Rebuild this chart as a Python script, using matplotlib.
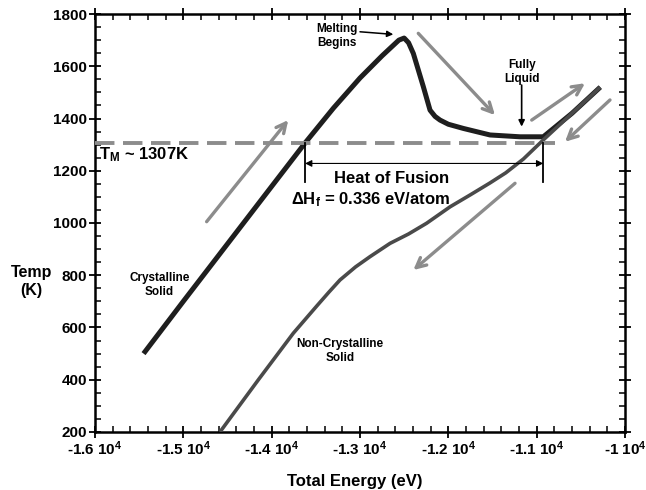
import matplotlib.pyplot as plt
from matplotlib.ticker import MultipleLocator, FuncFormatter

plt.rcParams['font.family'] = ['Liberation Sans', 'DejaVu Sans']
plt.rcParams['font.weight'] = 'bold'
plt.rcParams['mathtext.fontset'] = 'custom'
plt.rcParams['mathtext.rm'] = 'Liberation Sans:bold'
plt.rcParams['mathtext.it'] = 'Liberation Sans:bold'
plt.rcParams['mathtext.bf'] = 'Liberation Sans:bold'

# heating run: crystalline solid -> melting -> liquid
heat_E = [-15450, -15000, -14500, -14000, -13620, -13300, -13000, -12750,
          -12560, -12500, -12450, -12396, -12283, -12207, -12150, -12094,
          -12000, -11830, -11528, -11189, -10925, -10600, -10280]
heat_T = [500, 700, 920, 1140, 1307, 1440, 1555, 1640,
          1700, 1708, 1690, 1649, 1522, 1432, 1408, 1394,
          1378, 1362, 1337, 1330, 1330, 1420, 1520]

# cooling run: liquid -> non-crystalline solid
cool_E = [-10280, -10600, -10925, -11150, -11350, -11530, -11750, -11980,
          -12246, -12450, -12660, -12887, -13050, -13226, -13350, -13490,
          -13755, -14150, -14585]
cool_T = [1520, 1420, 1318, 1245, 1192, 1153, 1108, 1062,
          999, 958, 922, 871, 832, 782, 736, 682,
          578, 400, 200]

T_melt = 1307
E_solid = -13622
E_liquid = -10925

fig, ax = plt.subplots(figsize=(6.46, 4.9), dpi=100)
fig.subplots_adjust(left=0.147, right=0.9675, bottom=0.1184, top=0.9714)

ax.plot(heat_E, heat_T, color="#1e1e1e", lw=3.6, solid_capstyle="butt",
        solid_joinstyle="round", zorder=3)
ax.plot(cool_E, cool_T, color="#4a4a4a", lw=2.6, solid_capstyle="butt",
        solid_joinstyle="round", zorder=3)

# melting temperature line
ax.plot([-16000, -10790], [T_melt, T_melt], color="#8c8c8c", lw=2.8,
        dashes=(5, 2.2), zorder=4)
ax.text(-15950, 1262, r"T$_{\mathrm{M}}$ ~ 1307K", fontsize=12, fontweight="bold",
        va="center", ha="left")

# heat of fusion bracket
ax.plot([E_solid, E_solid], [1305, 1158], color="black", lw=1.3, zorder=5)
ax.plot([E_liquid, E_liquid], [1305, 1158], color="black", lw=1.3, zorder=5)
ax.annotate("", xy=(E_solid, 1228), xytext=(E_liquid, 1228),
            arrowprops=dict(arrowstyle="<|-|>", color="black", lw=0.8,
                            mutation_scale=10, shrinkA=0, shrinkB=0), zorder=5)
ax.text(-12640, 1172, "Heat of Fusion", fontsize=12, fontweight="bold",
        ha="center", va="center")
ax.text(-12875, 1088, r"$\Delta$H$_{\mathrm{f}}$ = 0.336 eV/atom", fontsize=12,
        fontweight="bold", ha="center", va="center")

# annotations
ax.text(-13257, 1716, "Melting\nBegins", fontsize=8.5, fontweight="bold",
        ha="center", va="center")
ax.annotate("", xy=(-12623, 1722), xytext=(-13000, 1732),
            arrowprops=dict(arrowstyle="-|>", color="black", lw=1.1,
                            mutation_scale=9, shrinkA=0, shrinkB=0))
ax.annotate("", xy=(-11170, 1369), xytext=(-11170, 1528),
            arrowprops=dict(arrowstyle="-|>", color="black", lw=1.2,
                            mutation_scale=9, shrinkA=0, shrinkB=0))
ax.text(-11170, 1579, "Fully\nLiquid", fontsize=8.5, fontweight="bold",
        ha="center", va="center")
ax.text(-15272, 763, "Crystalline\nSolid", fontsize=8.5, fontweight="bold",
        ha="center", va="center")
ax.text(-13226, 510, "Non-Crystalline\nSolid", fontsize=8.5, fontweight="bold",
        ha="center", va="center")

# gray direction arrows
arrows = [((-14736, 1005), (-13812, 1394)),
          ((-12340, 1726), (-11472, 1413)),
          ((-11056, 1394), (-10453, 1535)),
          ((-10170, 1471), (-10679, 1311)),
          ((-11245, 1152), (-12396, 820))]
for start, end in arrows:
    ax.annotate("", xy=end, xytext=start,
                arrowprops=dict(arrowstyle="->,head_length=0.7,head_width=0.35",
                                color="#8c8c8c", lw=2.4, shrinkA=0, shrinkB=0))

ax.set_xlim(-16000, -10000)
ax.set_ylim(200, 1800)
ax.xaxis.set_major_locator(MultipleLocator(1000))
ax.xaxis.set_minor_locator(MultipleLocator(200))
ax.yaxis.set_major_locator(MultipleLocator(200))
ax.yaxis.set_minor_locator(MultipleLocator(50))


def energy_fmt(v, pos):
    m = v / 1e4
    s = "%g" % m
    return s + r" 10$^{4}$"


ax.xaxis.set_major_formatter(FuncFormatter(energy_fmt))
ax.tick_params(which="major", direction="inout", length=9, width=1.3,
               labelsize=11, top=True, right=True, pad=1)
ax.tick_params(which="minor", direction="in", length=4, width=1.1,
               top=True, right=True)
for lab in ax.get_xticklabels() + ax.get_yticklabels():
    lab.set_fontweight("bold")
for sp in ax.spines.values():
    sp.set_linewidth(1.8)

ax.set_xlabel("Total Energy (eV)", fontsize=12, fontweight="bold", labelpad=10)
ax.xaxis.set_label_coords(0.49, -0.1)
ax.set_ylabel("Temp\n(K)", fontsize=11.5, fontweight="bold", rotation=0,
              ha="center", va="center")
ax.yaxis.set_label_coords(-0.12, 0.36)

fig.savefig("out.png", dpi=100)
